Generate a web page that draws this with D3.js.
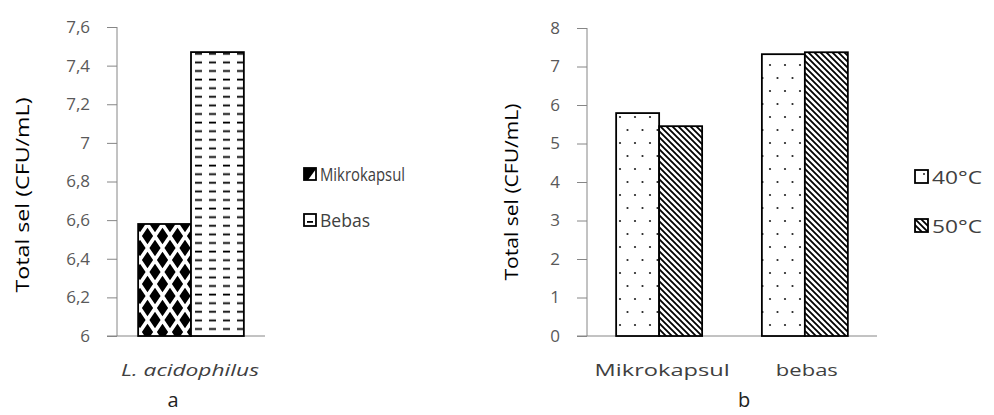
<!DOCTYPE html>
<html><head><meta charset="utf-8">
<script src="https://cdn.jsdelivr.net/npm/d3@7/dist/d3.min.js"></script>
<style>body{margin:0;background:#fff}svg{display:block}text{font-family:"Open Sans","Liberation Sans",sans-serif}</style>
</head><body>
<svg id="c" width="994" height="415"></svg>
<script>
// Panel a
const catsA = ["L. acidophilus"];
const seriesA = ["Mikrokapsul", "Bebas"];
const valsA = [[6.58, 7.47]];
const ticksA = [6, 6.2, 6.4, 6.6, 6.8, 7, 7.2, 7.4, 7.6];
// Panel b
const catsB = ["Mikrokapsul", "bebas"];
const seriesB = ["40°C", "50°C"];
const valsB = [[5.79, 5.45], [7.32, 7.37]];
const ticksB = [0, 1, 2, 3, 4, 5, 6, 7, 8];
const yLabel = "Total sel (CFU/mL)";
const panelLabels = ["a", "b"];

const svg = d3.select("#c");
const defs = svg.append("defs");
function pat(id, w, h, x, y, bg){
  const p = defs.append("pattern").attr("id",id).attr("patternUnits","userSpaceOnUse").attr("width",w).attr("height",h).attr("x",x).attr("y",y);
  p.append("rect").attr("width",w).attr("height",h).attr("fill",bg||"#fff");
  return p;
}
function diamond(cx, cy, a, b){ return `M${cx},${cy-b}L${cx+a},${cy}L${cx},${cy+b}L${cx-a},${cy}Z`; }
// diamond pattern (bars)
let p = pat("pDiamond", 15, 24, 140, 224);
const dA = 5.6, dB = 8.2;
p.append("path").attr("d",[[0,0],[15,0],[0,24],[15,24],[7.5,12]].map(d=>diamond(d[0],d[1],dA,dB)).join(" ")).attr("fill","#000");
// dash pattern
p = pat("pDash", 14, 8.6, 192, 58);
p.append("rect").attr("x",3).attr("y",3.5).attr("width",7).attr("height",1.8).attr("fill","#000");
// dot pattern
p = pat("pDot", 15, 26, 616, 112);
p.append("circle").attr("cx",4).attr("cy",5).attr("r",1.1).attr("fill","#222");
p.append("circle").attr("cx",11.5).attr("cy",18).attr("r",1.1).attr("fill","#222");
// diagonal pattern
p = defs.append("pattern").attr("id","pDiag").attr("patternUnits","userSpaceOnUse").attr("width",6).attr("height",6);
p.append("rect").attr("width",6).attr("height",6).attr("fill","#fff");
p.append("path").attr("d","M-1,-1L7,7 M-1,5L1,7 M5,-1L7,1").attr("stroke","#000").attr("stroke-width",1.8);
// legend swatch patterns
p = pat("lDiamond", 12, 12, 304, 168, "#000");
p.append("path").attr("d","M12,1L12,12L4,12Z").attr("fill","#fff");
p = pat("lDash", 13, 13, 304, 214);
p.append("rect").attr("x",3).attr("y",7).attr("width",6).attr("height",1.8).attr("fill","#000");
p = pat("lDot", 13, 13, 915, 170);
p.append("circle").attr("cx",9).attr("cy",4).attr("r",1).attr("fill","#222");

function panel(cfg){
  const g = svg.append("g");
  const y = d3.scaleLinear().domain(cfg.domain).range([cfg.y1, cfg.y0]);
  const x0 = d3.scaleBand().domain(cfg.cats).range([cfg.x0, cfg.x1]).paddingInner(cfg.padIn).paddingOuter(cfg.padOut);
  const x1 = d3.scaleBand().domain(cfg.series).range([0, x0.bandwidth()]);
  // y axis
  const ax = g.append("g").attr("transform",`translate(${cfg.x0},0)`).call(d3.axisLeft(y).tickValues(cfg.ticks).tickSize(10).tickPadding(17).tickFormat(d=>String(d).replace(".",",")));
  ax.select(".domain").attr("stroke","#868686").attr("d",`M0,${cfg.y1}V${cfg.y0}`);
  ax.selectAll(".tick line").attr("stroke","#868686");
  ax.selectAll(".tick text").attr("fill","#595959").style("font-size","17px").style("font-family","'Open Sans',sans-serif");
  // baseline
  g.append("line").attr("x1",cfg.x0-10).attr("x2",cfg.xEnd).attr("y1",y(cfg.domain[0])).attr("y2",y(cfg.domain[0])).attr("stroke","#868686");
  // bars
  cfg.cats.forEach((c,i)=>{
    cfg.series.forEach((s,j)=>{
      g.append("rect").attr("x",x0(c)+x1(s)).attr("width",x1.bandwidth()).attr("y",y(cfg.vals[i][j])).attr("height",y(cfg.domain[0])-y(cfg.vals[i][j]))
       .attr("fill",`url(#${cfg.fills[j]})`).attr("stroke","#000").attr("stroke-width",1.8);
    });
    g.append("text").attr("x",x0(c)+x0.bandwidth()/2+cfg.catDx[i]).attr("y",cfg.catY).attr("text-anchor","middle").attr("fill","#404040")
      .attr("textLength",cfg.catLen[i]).attr("lengthAdjust","spacingAndGlyphs")
      .style("font-size","17px").style("font-style",cfg.italic?"italic":"normal").text(c);
  });
  // y label
  g.append("text").attr("transform",`translate(${cfg.labX},${cfg.labY}) rotate(-90)`).attr("text-anchor","middle").attr("fill","#000")
    .attr("textLength",cfg.labLen).attr("lengthAdjust","spacingAndGlyphs").style("font-size","18px").text(yLabel);
  // panel label
  g.append("text").attr("x",cfg.pX).attr("y",407).attr("text-anchor","middle").attr("fill","#222").style("font-size","20px").text(cfg.pLabel);
  // legend
  cfg.series.forEach((s,j)=>{
    const ly = cfg.legY[j];
    g.append("rect").attr("x",cfg.legX).attr("y",ly).attr("width",cfg.legS).attr("height",cfg.legS).attr("fill",`url(#${cfg.legFills[j]})`).attr("stroke","#000").attr("stroke-width",1.8);
    g.append("text").attr("x",cfg.legX+cfg.legS+4).attr("y",ly+cfg.legS+0.5).attr("fill","#404040")
      .attr("textLength",cfg.legLen[j]).attr("lengthAdjust","spacingAndGlyphs").style("font-size","18px").text(s);
  });
}

panel({cats:catsA, series:seriesA, vals:valsA, ticks:ticksA, domain:[6,7.6], y0:27, y1:336, x0:117, x1:265, xEnd:265,
  padIn:0, padOut:0.2, fills:["pDiamond","pDash"], legFills:["lDiamond","lDash"], italic:true, catY:376, catLen:[138], catDx:[-1],
  labX:29, labY:195, labLen:195, pX:173, pLabel:panelLabels[0], legX:304, legS:12, legY:[168,214], legLen:[85,50]});
panel({cats:catsB, series:seriesB, vals:valsB, ticks:ticksB, domain:[0,8], y0:28, y1:336, x0:587, x1:877, xEnd:877,
  padIn:0.41, padOut:0.2, fills:["pDot","pDiag"], legFills:["lDot","pDiag"], italic:false, catY:376, catLen:[135,62], catDx:[3,2],
  labX:518, labY:192, labLen:177, pX:744, pLabel:panelLabels[1], legX:915, legS:13, legY:[170,219], legLen:[50,50]});
</script>
</body></html>
